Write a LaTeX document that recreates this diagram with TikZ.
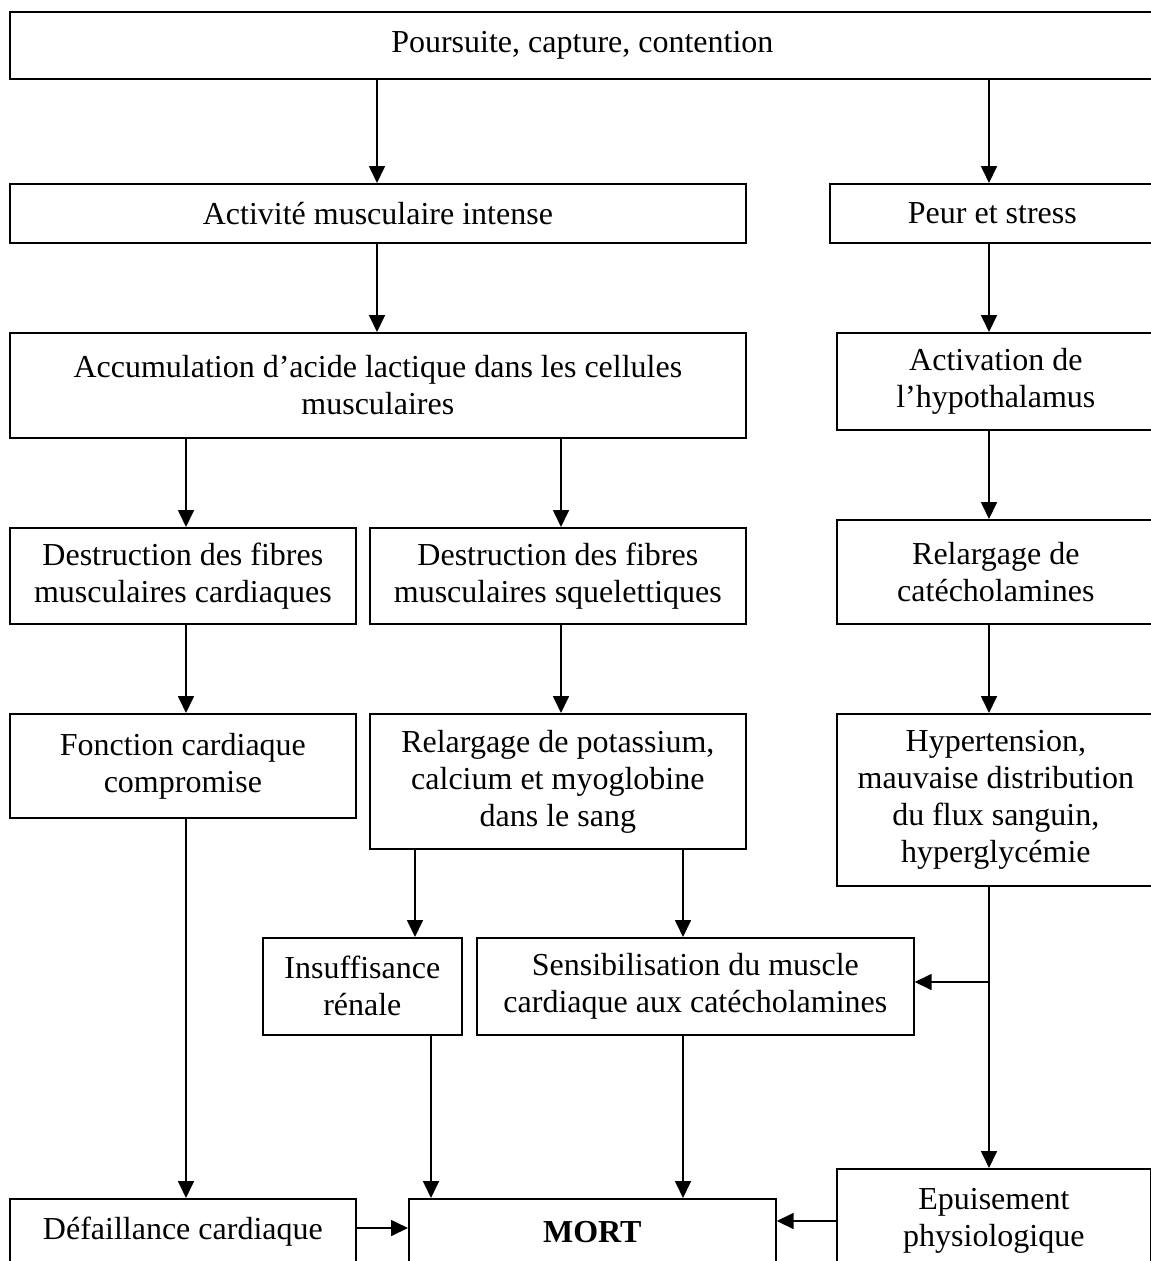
\documentclass[tikz,border=0pt]{standalone}
\usepackage{fontspec}
\setmainfont{Liberation Serif}
\usetikzlibrary{arrows.meta}
\begin{document}
\begin{tikzpicture}[x=1pt,y=-1pt,
  box/.style={draw, line width=1.7pt, inner sep=0pt, align=center, anchor=north west,
    font=\fontsize{32}{37}\selectfont},
  arr/.style={line width=1.7pt, -{Triangle[width=16pt,length=17pt]}}]
\useasboundingbox (0,0) rectangle (1151,1261);
\fill[white] (0,0) rectangle (1151,1261);
\clip (0,0) rectangle (1151,1261);
% boxes
\node[box, minimum width=1145, minimum height=67] (top) at (9,11) {Poursuite, capture, contention};
\node[box, minimum width=736, minimum height=59] (act) at (9,183) {Activité musculaire intense};
\node[box, minimum width=325, minimum height=59] (peur) at (829,183) {Peur et stress};
\node[box, minimum width=736, minimum height=105] (accu) at (9,332) {Accumulation d’acide lactique dans les cellules\\musculaires};
\node[box, minimum width=318, minimum height=97] (hypo) at (836,332) {Activation de\\l’hypothalamus};
\node[box, minimum width=346, minimum height=96] (dcard) at (9,527) {Destruction des fibres\\musculaires cardiaques};
\node[box, minimum width=376, minimum height=96] (dsq) at (369,527) {Destruction des fibres\\musculaires squelettiques};
\node[box, minimum width=318, minimum height=104] (catech) at (836,519) {Relargage de\\catécholamines};
\node[box, minimum width=346, minimum height=104] (fonc) at (9,713) {Fonction cardiaque\\compromise};
\node[box, minimum width=376, minimum height=135] (pot) at (369,713) {Relargage de potassium,\\calcium et myoglobine\\dans le sang};
\node[box, minimum width=318, minimum height=172] (hyper) at (836,713) {Hypertension,\\mauvaise distribution\\du flux sanguin,\\hyperglycémie};
\node[box, minimum width=199, minimum height=97] (insuf) at (262,937) {Insuffisance\\rénale};
\node[box, minimum width=437, minimum height=97] (sensib) at (476,937) {Sensibilisation du muscle\\cardiaque aux catécholamines};
\node[box, minimum width=346, minimum height=66] (defa) at (9,1198) {Défaillance cardiaque};
\node[box, minimum width=367, minimum height=66, font=\fontsize{32}{37}\selectfont\bfseries] (mort) at (408,1198) {MORT};
\node[box, minimum width=314, minimum height=104] (epuis) at (836,1168) {Epuisement\\physiologique};
% columns for connectors
\coordinate (xa) at (377,0);
\coordinate (xb) at (989,0);
\coordinate (xc) at (186,0);
\coordinate (xd) at (561,0);
\coordinate (xe) at (415,0);
\coordinate (xf) at (683,0);
\coordinate (xg) at (431,0);
\coordinate (br) at (989,982);
\coordinate (yd) at (0,1228);
\coordinate (ye) at (0,1221);
% connectors
\draw[arr] (top.south -| xa) -- (act.north -| xa);
\draw[arr] (top.south -| xb) -- (peur.north -| xb);
\draw[arr] (act.south -| xa) -- (accu.north -| xa);
\draw[arr] (peur.south -| xb) -- (hypo.north -| xb);
\draw[arr] (accu.south -| xc) -- (dcard.north -| xc);
\draw[arr] (accu.south -| xd) -- (dsq.north -| xd);
\draw[arr] (hypo.south -| xb) -- (catech.north -| xb);
\draw[arr] (dcard.south -| xc) -- (fonc.north -| xc);
\draw[arr] (dsq.south -| xd) -- (pot.north -| xd);
\draw[arr] (catech.south -| xb) -- (hyper.north -| xb);
\draw[arr] (fonc.south -| xc) -- (defa.north -| xc);
\draw[arr] (pot.south -| xe) -- (insuf.north -| xe);
\draw[arr] (pot.south -| xf) -- (sensib.north -| xf);
\draw[arr] (hyper.south -| xb) -- (epuis.north -| xb);
\draw[arr] (br) -- (sensib.east |- br);
\draw[arr] (insuf.south -| xg) -- (mort.north -| xg);
\draw[arr] (sensib.south -| xf) -- (mort.north -| xf);
\draw[arr] (defa.east |- yd) -- (mort.west |- yd);
\draw[arr] (epuis.west |- ye) -- (mort.east |- ye);
\end{tikzpicture}
\end{document}
